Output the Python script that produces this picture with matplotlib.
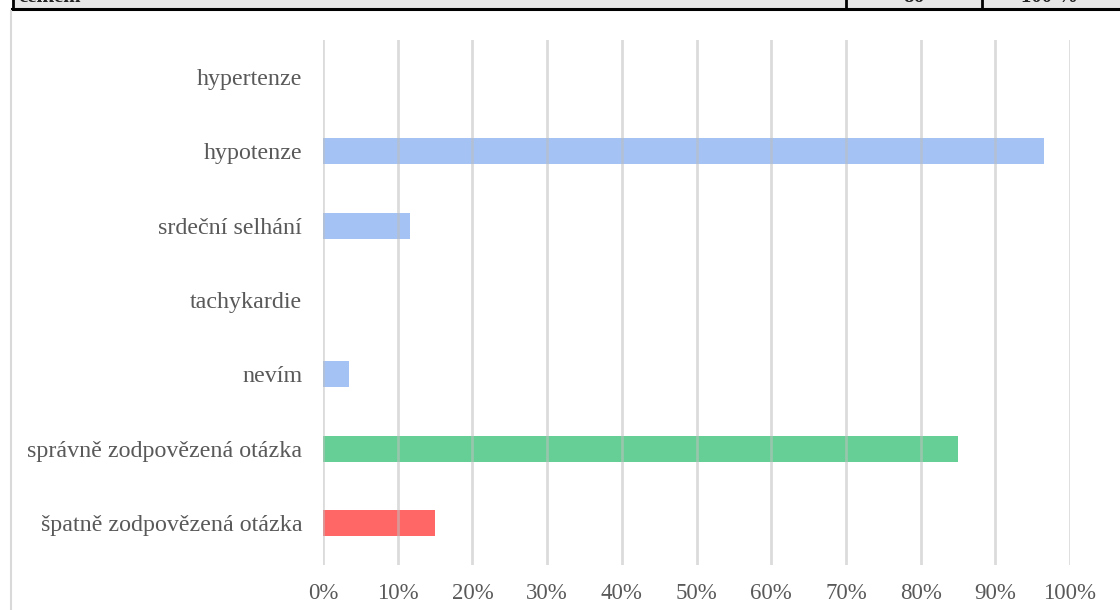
import matplotlib.pyplot as plt
from matplotlib.patches import Rectangle
from matplotlib.lines import Line2D

# answers to the question, share of respondents (%)
categories = ['hypertenze', 'hypotenze', 'srdeční selhání', 'tachykardie',
              'nevím', 'správně zodpovězená otázka', 'špatně zodpovězená otázka']
values = [0, 96.5, 11.6, 0, 3.5, 85.0, 15.0]
colors = ['#a4c2f4', '#a4c2f4', '#a4c2f4', '#a4c2f4', '#a4c2f4', '#66cf95', '#ff6666']
ticks = list(range(0, 101, 10))

plt.rcParams['font.family'] = ['Liberation Serif', 'DejaVu Serif']

fig = plt.figure(figsize=(11.2, 6.1), dpi=100)
W, H = 1120, 610

# last row of the table above the chart (mostly cut off)
fig.patches.append(Rectangle((12 / W, 1 - 8 / H), 1 - 12 / W, 8 / H, transform=fig.transFigure,
                             facecolor='#e6e6e6', edgecolor='none'))
for x in [13, 846, 982]:
    fig.lines.append(Line2D([x / W, x / W], [1 - 9 / H, 1], transform=fig.transFigure,
                            color='black', lw=2))
fig.lines.append(Line2D([12 / W, 1], [1 - 9 / H, 1 - 9 / H], transform=fig.transFigure,
                        color='black', lw=2.2))
for x, s, ha in [(18, 'celkem', 'left'), (914, '86', 'center'), (1050, '100 %', 'center')]:
    fig.text(x / W, 1 - 2 / H, s, ha=ha, va='baseline', fontsize=15, fontweight='bold',
             color='#222222')

# chart frame
fig.lines.append(Line2D([11 / W, 11 / W], [0, 1 - 11 / H], transform=fig.transFigure,
                        color='#d9d9d9', lw=1.5))

ax = fig.add_axes([323 / W, 1 - 565 / H, (1070 - 323) / W, (565 - 40) / H])
y = list(range(len(categories)))
ax.barh(y, values, height=0.35, color=colors, zorder=2)
ax.set_ylim(6.565, -0.498)
ax.set_xlim(0, 100)
ax.set_yticks(y)
ax.set_yticklabels(categories)
ax.set_xticks(ticks)
ax.set_xticklabels([f'{t}%' for t in ticks])
ax.tick_params(length=0, labelcolor='#595959')
ax.tick_params(axis='x', pad=13, labelsize=16.5)
ax.tick_params(axis='y', pad=15, labelsize=17.3)
for t in ticks:
    ax.axvline(t, color='#bfbfbf', lw=2, alpha=0.55, zorder=3)
for s in ax.spines.values():
    s.set_visible(False)

fig.savefig('out.png', dpi=100)
